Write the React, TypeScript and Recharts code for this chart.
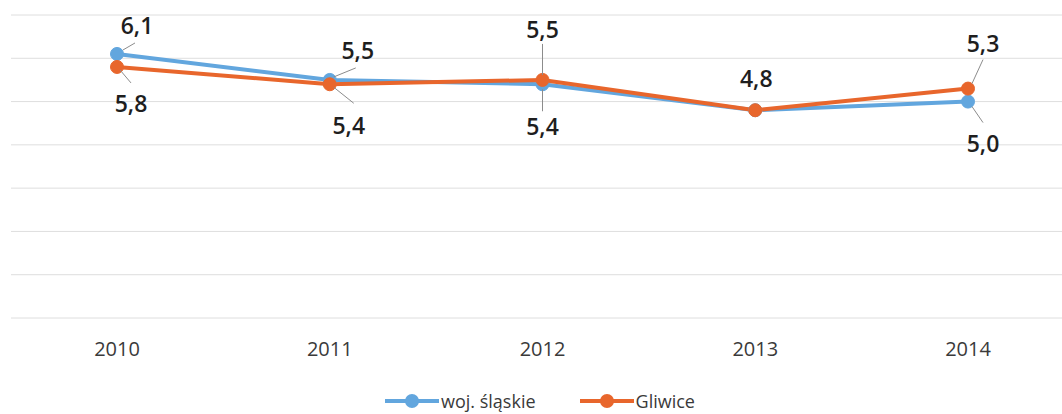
import { LineChart, Line, XAxis, YAxis, CartesianGrid, Legend, LabelList } from 'recharts'

const years = ['2010', '2011', '2012', '2013', '2014']
const wojSlaskie = [6.1, 5.5, 5.4, 4.8, 5.0]
const gliwice = [5.8, 5.4, 5.5, 4.8, 5.3]
const yTicks = [0, 1, 2, 3, 4, 5, 6, 7]

const C = {
  blue: '#62A6DE',
  orange: '#E8662C',
  grid: '#dedede',
  leader: '#8c8c8c',
  label: '#1e1e1e',
  tick: '#3a3a3a',
} as const

const FONT = '"Open Sans", "Liberation Sans", sans-serif'

// label placement relative to the point: text centre (dx, dy), optional leader [x1, y1, x2, y2]
type Placement = { dx: number; dy: number; leader?: [number, number, number, number] } | null

const bluePlacement: Placement[] = [
  { dx: 20, dy: -29, leader: [6, -4, 18, -11] },
  { dx: 28, dy: -30, leader: [4, -3, 26, -12] },
  { dx: 0, dy: 42, leader: [0, 5, 0, 27] },
  null,
  { dx: 15, dy: 41, leader: [4, 5, 15, 21] },
]

const orangePlacement: Placement[] = [
  { dx: 14, dy: 36, leader: [3, 3, 14, 16] },
  { dx: 19, dy: 41, leader: [4, 3, 24, 19] },
  { dx: 0, dy: -51, leader: [0, -5, 0, -36] },
  { dx: 1, dy: -32 },
  { dx: 15, dy: -46, leader: [4, -5, 15, -29] },
]

const data = years.map((year, i) => ({
  year,
  woj: wojSlaskie[i],
  gliwice: gliwice[i],
}))

const fmt = (v: number) => v.toFixed(1).replace('.', ',')

function makeLabel(placements: Placement[]) {
  return (props: any) => {
    const { x, y, value, index } = props
    const p = placements[index]
    if (!p || x == null || y == null) return null
    return (
      <g>
        {p.leader && (
          <line
            x1={x + p.leader[0]}
            y1={y + p.leader[1]}
            x2={x + p.leader[2]}
            y2={y + p.leader[3]}
            stroke={C.leader}
            strokeWidth={1}
          />
        )}
        <text
          x={x + p.dx}
          y={y + p.dy}
          textAnchor="middle"
          dominantBaseline="central"
          fontFamily={FONT}
          fontSize={23}
          fontWeight={600}
          fill={C.label}
        >
          {fmt(Number(value))}
        </text>
      </g>
    )
  }
}

const legendItems = [
  { name: 'woj. śląskie', color: C.blue },
  { name: 'Gliwice', color: C.orange },
]

function ChartLegend() {
  return (
    <div
      style={{
        display: 'flex',
        justifyContent: 'center',
        alignItems: 'center',
        gap: 44,
        height: 30,
        fontFamily: FONT,
        fontSize: 18,
        color: C.tick,
      }}
    >
      {legendItems.map((it) => (
        <span key={it.name} style={{ display: 'flex', alignItems: 'center' }}>
          <svg width={54} height={16} aria-hidden>
            <line x1={0} y1={8} x2={54} y2={8} stroke={it.color} strokeWidth={4} />
            <circle cx={27} cy={8} r={7} fill={it.color} />
          </svg>
          <span style={{ marginLeft: 2 }}>{it.name}</span>
        </span>
      ))}
    </div>
  )
}

export default function App() {
  return (
    <div
      style={{
        position: 'absolute',
        left: 0,
        top: 0,
        width: 1062,
        height: 414,
        overflow: 'hidden',
        background: '#fff',
      }}
    >
      <LineChart width={1080} height={414} data={data} margin={{ top: 15, right: 6, left: 11, bottom: 0 }}>
        <CartesianGrid horizontal vertical={false} stroke={C.grid} />
        <XAxis
          dataKey="year"
          padding={{ left: 106, right: 106 }}
          axisLine={false}
          tickLine={false}
          tickSize={0}
          tickMargin={24}
          height={66}
          tick={{ fontSize: 20, fontFamily: FONT, fill: C.tick }}
        />
        <YAxis hide domain={[0, 7]} ticks={yTicks} />
        <Legend
          verticalAlign="bottom"
          wrapperStyle={{ left: 0, width: 1080, top: 386 }}
          content={() => <ChartLegend />}
        />
        <Line
          type="linear"
          dataKey="woj"
          name="woj. śląskie"
          stroke={C.blue}
          strokeWidth={4}
          dot={{ r: 6.5, fill: C.blue, stroke: C.blue, strokeWidth: 1 }}
          isAnimationActive={false}
        >
          <LabelList dataKey="woj" content={makeLabel(bluePlacement)} />
        </Line>
        <Line
          type="linear"
          dataKey="gliwice"
          name="Gliwice"
          stroke={C.orange}
          strokeWidth={4}
          dot={{ r: 6.5, fill: C.orange, stroke: C.orange, strokeWidth: 1 }}
          isAnimationActive={false}
        >
          <LabelList dataKey="gliwice" content={makeLabel(orangePlacement)} />
        </Line>
      </LineChart>
    </div>
  )
}
